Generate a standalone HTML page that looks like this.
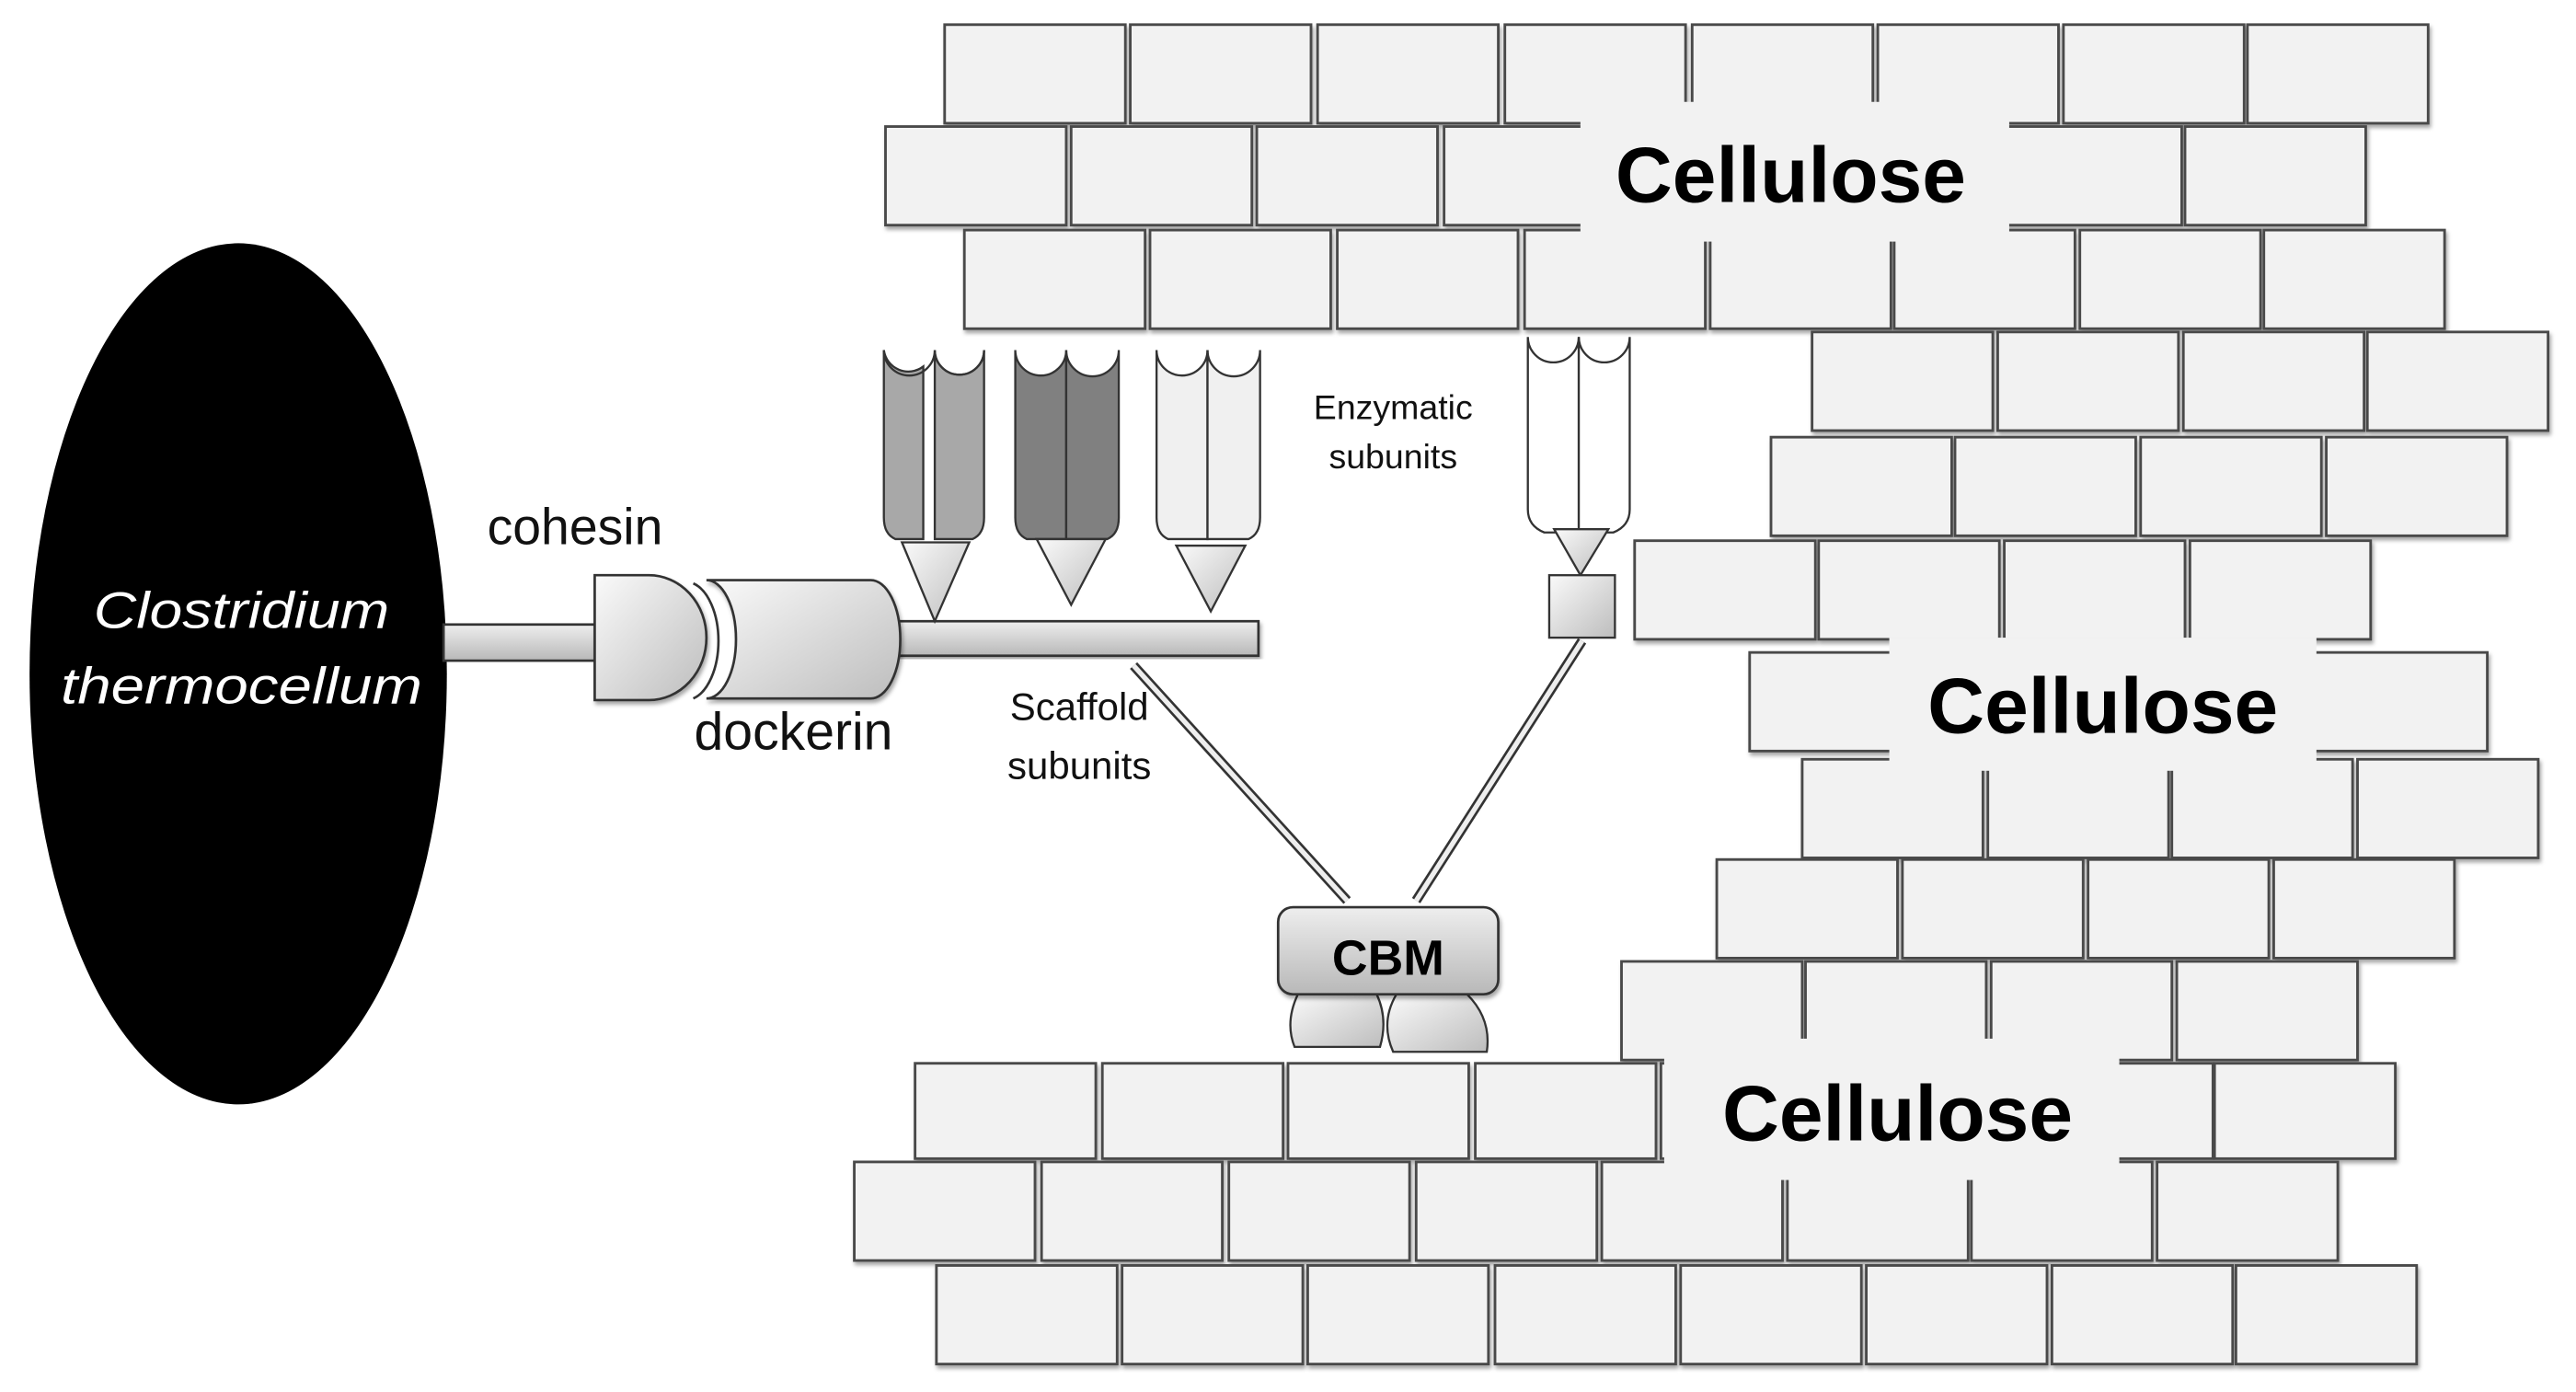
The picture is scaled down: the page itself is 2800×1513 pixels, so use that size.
<!DOCTYPE html>
<html><head><meta charset="utf-8"><style>
html,body{margin:0;padding:0;background:#fff}
svg{display:block}
.b{fill:#f2f2f2;stroke:#4a4a4a;stroke-width:1.6}
.t{font-family:"Liberation Sans",sans-serif}
</style></head><body>
<svg width="2800" height="1513" viewBox="0 0 1568 847" preserveAspectRatio="none" xmlns="http://www.w3.org/2000/svg">
<defs>
<linearGradient id="g1" x1="0" y1="0" x2="0" y2="1"><stop offset="0" stop-color="#eee"/><stop offset="1" stop-color="#b8b8b8"/></linearGradient>
<linearGradient id="g2" x1="0" y1="0" x2="1" y2="1"><stop offset="0" stop-color="#fafafa"/><stop offset="1" stop-color="#bdbdbd"/></linearGradient>
<filter id="sh"><feDropShadow dx="1" dy="2" stdDeviation="1.2" flood-color="#000" flood-opacity="0.35"/></filter>
</defs>
<g filter="url(#sh)">
<rect class="b" x="575" y="15" width="110" height="60"/><rect class="b" x="688" y="15" width="110" height="60"/><rect class="b" x="802" y="15" width="110" height="60"/><rect class="b" x="916" y="15" width="110" height="60"/><rect class="b" x="1030" y="15" width="110" height="60"/><rect class="b" x="1143" y="15" width="110" height="60"/><rect class="b" x="1256" y="15" width="110" height="60"/><rect class="b" x="1368" y="15" width="110" height="60"/>
<rect class="b" x="539" y="77" width="110" height="60"/><rect class="b" x="652" y="77" width="110" height="60"/><rect class="b" x="765" y="77" width="110" height="60"/><rect class="b" x="879" y="77" width="110" height="60"/><rect class="b" x="992" y="77" width="110" height="60"/><rect class="b" x="1105" y="77" width="110" height="60"/><rect class="b" x="1218" y="77" width="110" height="60"/><rect class="b" x="1330" y="77" width="110" height="60"/>
<rect class="b" x="587" y="140" width="110" height="60"/><rect class="b" x="700" y="140" width="110" height="60"/><rect class="b" x="814" y="140" width="110" height="60"/><rect class="b" x="928" y="140" width="110" height="60"/><rect class="b" x="1041" y="140" width="110" height="60"/><rect class="b" x="1153" y="140" width="110" height="60"/><rect class="b" x="1266" y="140" width="110" height="60"/><rect class="b" x="1378" y="140" width="110" height="60"/>
<rect class="b" x="1103" y="202" width="110" height="60"/><rect class="b" x="1216" y="202" width="110" height="60"/><rect class="b" x="1329" y="202" width="110" height="60"/><rect class="b" x="1441" y="202" width="110" height="60"/>
<rect class="b" x="1078" y="266" width="110" height="60"/><rect class="b" x="1190" y="266" width="110" height="60"/><rect class="b" x="1303" y="266" width="110" height="60"/><rect class="b" x="1416" y="266" width="110" height="60"/>
<rect class="b" x="995" y="329" width="110" height="60"/><rect class="b" x="1107" y="329" width="110" height="60"/><rect class="b" x="1220" y="329" width="110" height="60"/><rect class="b" x="1333" y="329" width="110" height="60"/>
<rect class="b" x="1065" y="397" width="110" height="60"/><rect class="b" x="1178" y="397" width="110" height="60"/><rect class="b" x="1291" y="397" width="110" height="60"/><rect class="b" x="1404" y="397" width="110" height="60"/>
<rect class="b" x="1097" y="462" width="110" height="60"/><rect class="b" x="1210" y="462" width="110" height="60"/><rect class="b" x="1322" y="462" width="110" height="60"/><rect class="b" x="1435" y="462" width="110" height="60"/>
<rect class="b" x="1045" y="523" width="110" height="60"/><rect class="b" x="1158" y="523" width="110" height="60"/><rect class="b" x="1271" y="523" width="110" height="60"/><rect class="b" x="1384" y="523" width="110" height="60"/>
<rect class="b" x="987" y="585" width="110" height="60"/><rect class="b" x="1099" y="585" width="110" height="60"/><rect class="b" x="1212" y="585" width="110" height="60"/><rect class="b" x="1325" y="585" width="110" height="60"/>
<rect class="b" x="557" y="647" width="110" height="58"/><rect class="b" x="671" y="647" width="110" height="58"/><rect class="b" x="784" y="647" width="110" height="58"/><rect class="b" x="898" y="647" width="110" height="58"/><rect class="b" x="1011" y="647" width="110" height="58"/><rect class="b" x="1124" y="647" width="110" height="58"/><rect class="b" x="1237" y="647" width="110" height="58"/><rect class="b" x="1348" y="647" width="110" height="58"/>
<rect class="b" x="520" y="707" width="110" height="60"/><rect class="b" x="634" y="707" width="110" height="60"/><rect class="b" x="748" y="707" width="110" height="60"/><rect class="b" x="862" y="707" width="110" height="60"/><rect class="b" x="975" y="707" width="110" height="60"/><rect class="b" x="1088" y="707" width="110" height="60"/><rect class="b" x="1200" y="707" width="110" height="60"/><rect class="b" x="1313" y="707" width="110" height="60"/>
<rect class="b" x="570" y="770" width="110" height="60"/><rect class="b" x="683" y="770" width="110" height="60"/><rect class="b" x="796" y="770" width="110" height="60"/><rect class="b" x="910" y="770" width="110" height="60"/><rect class="b" x="1023" y="770" width="110" height="60"/><rect class="b" x="1136" y="770" width="110" height="60"/><rect class="b" x="1249" y="770" width="110" height="60"/><rect class="b" x="1361" y="770" width="110" height="60"/>
</g>
<rect x="962" y="62" width="261" height="85" fill="#f2f2f2"/>
<rect x="1150" y="388" width="260" height="81" fill="#f2f2f2"/>
<rect x="1013" y="632" width="277" height="86" fill="#f2f2f2"/>
<g class="t" font-weight="bold" font-size="48" fill="#000" text-anchor="middle">
<text x="1090" y="123">Cellulose</text>
<text x="1280" y="446">Cellulose</text>
<text x="1155" y="694">Cellulose</text>
</g>

<ellipse cx="145" cy="410" rx="127" ry="262" fill="#000"/>
<g class="t" font-style="italic" font-size="31" fill="#fff">
<text x="57" y="382" textLength="180" lengthAdjust="spacingAndGlyphs">Clostridium</text>
<text x="37" y="428" textLength="220" lengthAdjust="spacingAndGlyphs">thermocellum</text>
</g>
<rect x="270" y="380" width="95" height="22" fill="url(#g1)" stroke="#333" stroke-width="1.5"/>
<rect x="546" y="378" width="220" height="21" fill="url(#g1)" stroke="#333" stroke-width="1.5" filter="url(#sh)"/>
<path d="M362 350 H395 A35 38 0 0 1 395 426 H362 Z" fill="url(#g2)" stroke="#333" stroke-width="1.5" filter="url(#sh)"/>
<path d="M430 353 H530 A18 36 0 0 1 530 425 H430 A18 36 0 0 0 430 353 Z" fill="url(#g2)" stroke="#333" stroke-width="1.5" filter="url(#sh)"/>
<path d="M422 355 A20 36 0 0 1 422 425" fill="none" stroke="#333" stroke-width="1.5"/>

<g stroke="#333" stroke-width="1.3">
<path d="M538 213 V315 Q538 325 545 328 H562 V223 A15 15 0 0 1 538 213Z" fill="#a8a8a8"/>
<path d="M569 213 V328 H592 Q599 325 599 315 V213 A15 15 0 0 1 569 213Z" fill="#a8a8a8"/>
<path d="M538 213 A15 15 0 0 0 569 213 A15 15 0 0 0 599 213" fill="none"/>
<path d="M549 330 H590 L569 378 Z" fill="url(#g2)"/>
<path d="M618 213 V315 Q618 325 625 328 H649 V213 A15 15 0 0 1 618 213Z" fill="#808080"/>
<path d="M649 213 V328 H674 Q681 325 681 315 V213 A15 15 0 0 1 649 213Z" fill="#808080"/>
<path d="M631 328 H673 L652 368 Z" fill="url(#g2)"/>
<path d="M704 213 V315 Q704 325 711 328 H735 V213 A15 15 0 0 1 704 213Z" fill="#f0f0f0"/>
<path d="M735 213 V328 H760 Q767 325 767 315 V213 A15 15 0 0 1 735 213Z" fill="#f0f0f0"/>
<path d="M716 332 H758 L737 372 Z" fill="url(#g2)"/>
<path d="M930 205 V310 Q930 320 940 324 H961 V205 A15 15 0 0 1 930 205Z" fill="#fff"/>
<path d="M961 205 V324 H982 Q992 320 992 310 V205 A15 15 0 0 1 961 205Z" fill="#fff"/>
<path d="M946 322 H979 L962 350 Z" fill="url(#g2)"/>
<rect x="943" y="350" width="40" height="38" fill="url(#g2)"/>
</g>
<path d="M690 405 L820 548" stroke="#333" stroke-width="6" fill="none"/>
<path d="M690 405 L820 548" stroke="#eee" stroke-width="3" fill="none"/>
<path d="M963 390 L862 548" stroke="#333" stroke-width="6" fill="none"/>
<path d="M963 390 L862 548" stroke="#eee" stroke-width="3" fill="none"/>
<path d="M790 605 Q782 622 788 637 H840 Q845 620 838 605 Z" fill="url(#g2)" stroke="#333" stroke-width="1.3"/>
<path d="M850 605 Q840 622 848 640 H905 Q908 620 893 605 Z" fill="url(#g2)" stroke="#333" stroke-width="1.3"/>
<rect x="778" y="552" width="134" height="53" rx="9" fill="url(#g1)" stroke="#333" stroke-width="1.5" filter="url(#sh)"/>
<text class="t" x="845" y="593" font-size="30" font-weight="bold" text-anchor="middle">CBM</text>

<g class="t" fill="#111" text-anchor="middle">
<text x="350" y="331" font-size="31">cohesin</text>
<text x="483" y="456" font-size="32">dockerin</text>
<text x="657" y="438" font-size="23.5">Scaffold</text>
<text x="657" y="474" font-size="23.5">subunits</text>
<text x="848" y="255" font-size="21">Enzymatic</text>
<text x="848" y="285" font-size="21">subunits</text>
</g>
</svg>
</body></html>
